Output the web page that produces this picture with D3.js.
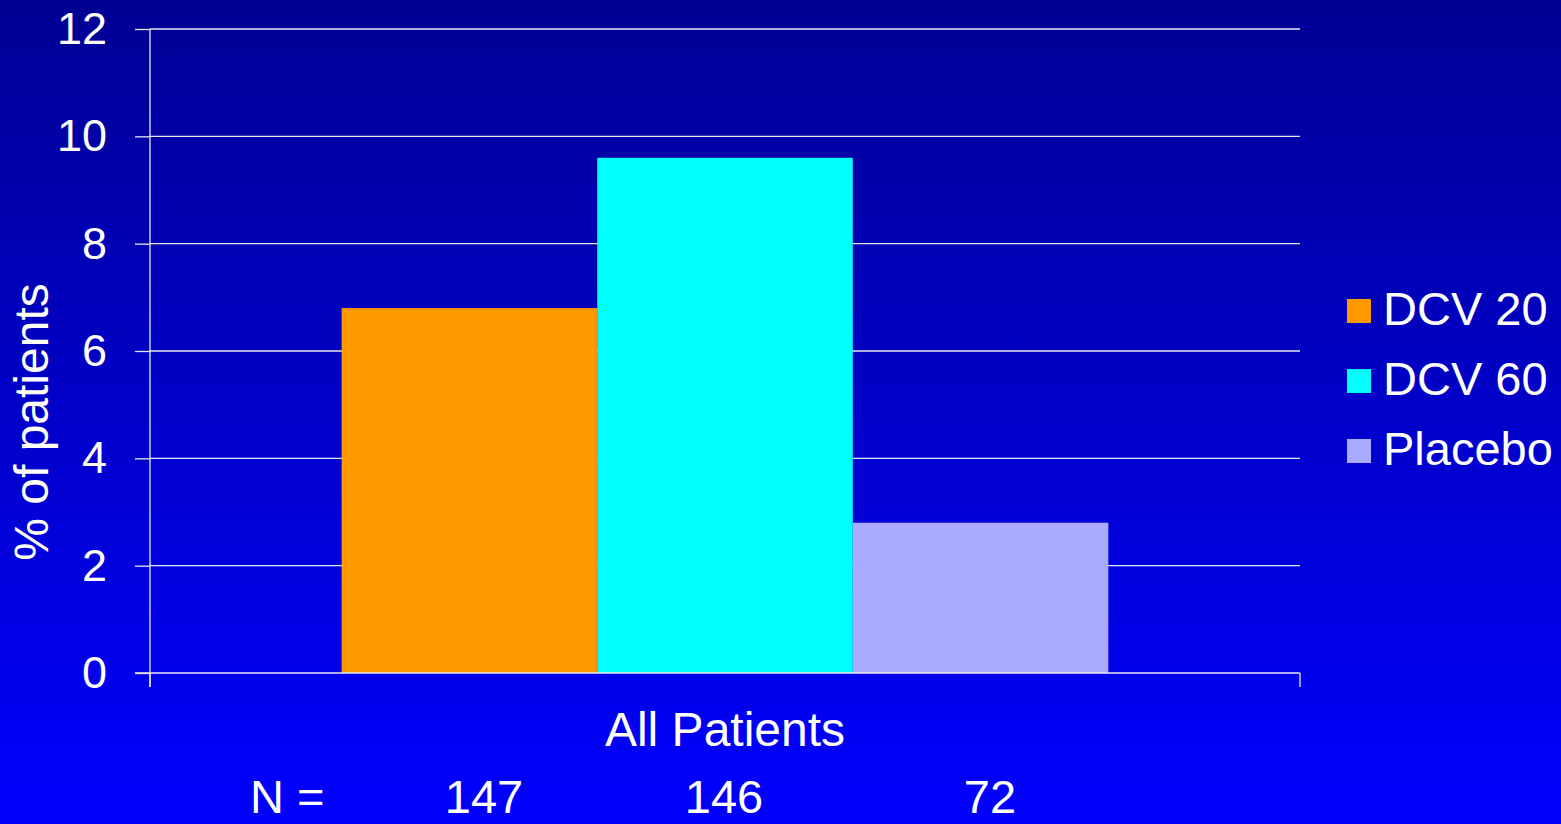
<!DOCTYPE html>
<html lang="en">
<head>
<meta charset="UTF-8">
<title>% of patients - All Patients</title>
<script src="https://cdn.jsdelivr.net/npm/d3@7"></script>
<style>
    body { margin: 0; overflow: hidden; }
    svg { display: block; font-family: "Liberation Sans", Arial, sans-serif; }
</style>
</head>
<body>
<div id="chart"></div>
<script>
    // data
    const categories = ["All Patients"];
    const seriesNames = ["DCV 20", "DCV 60", "Placebo"];
    const seriesValues = [6.8, 9.6, 2.8];
    const seriesColors = ["#ff9900", "#00ffff", "#aaaaff"];
    const nCounts = ["147", "146", "72"];
    const yTicks = [0, 2, 4, 6, 8, 10, 12];

    const width = 1561, height = 824;
    const plot = { left: 150, right: 1300, top: 29, bottom: 673 };

    const svg = d3.select("#chart").append("svg")
        .attr("width", width)
        .attr("height", height);

    // slide background: dark navy at top fading to bright blue
    const grad = svg.append("defs").append("linearGradient")
        .attr("id", "bg").attr("x1", 0).attr("y1", 0).attr("x2", 0).attr("y2", 1);
    grad.append("stop").attr("offset", "0%").attr("stop-color", "#000094");
    grad.append("stop").attr("offset", "100%").attr("stop-color", "#0000ff");
    svg.append("rect").attr("width", width).attr("height", height).attr("fill", "url(#bg)");

    const y = d3.scaleLinear().domain([0, 12]).range([plot.bottom, plot.top]);
    const x = d3.scaleBand().domain(categories).range([plot.left, plot.right]);
    const xs = d3.scaleBand().domain(seriesNames)
        .range([0, x.bandwidth()]).paddingOuter(0.75);

    // gridlines
    svg.append("g").selectAll("line")
        .data(yTicks.filter(d => d > 0))
        .join("line")
        .attr("x1", plot.left).attr("x2", plot.right)
        .attr("y1", d => y(d)).attr("y2", d => y(d))
        .attr("stroke", "#e8e8f0").attr("stroke-width", 1.3);

    // bars
    categories.forEach(cat => {
        svg.append("g").selectAll("rect")
            .data(seriesValues)
            .join("rect")
            .attr("x", (d, i) => x(cat) + xs(seriesNames[i]))
            .attr("width", xs.bandwidth())
            .attr("y", d => y(d))
            .attr("height", d => y(0) - y(d))
            .attr("fill", (d, i) => seriesColors[i]);
    });

    // y axis
    const yAxis = svg.append("g")
        .attr("transform", `translate(${plot.left},0)`)
        .call(d3.axisLeft(y).tickValues(yTicks).tickSize(15).tickPadding(28));
    yAxis.select(".domain").remove();
    yAxis.selectAll(".tick line").attr("stroke", "#e8e8f0").attr("stroke-width", 1.3);
    yAxis.selectAll(".tick text")
        .attr("fill", "#ffffff").attr("font-size", 45)
        .attr("font-family", "Liberation Sans, Arial, sans-serif");
    svg.append("line")
        .attr("x1", plot.left).attr("x2", plot.left)
        .attr("y1", plot.top).attr("y2", plot.bottom + 14)
        .attr("stroke", "#e8e8f0").attr("stroke-width", 1.3);

    // x axis: baseline plus category boundary ticks
    svg.append("line")
        .attr("x1", plot.left - 15).attr("x2", plot.right)
        .attr("y1", y(0)).attr("y2", y(0))
        .attr("stroke", "#e8e8f0").attr("stroke-width", 1.5);
    svg.append("g").selectAll("line")
        .data(x.range())
        .join("line")
        .attr("x1", d => d).attr("x2", d => d)
        .attr("y1", y(0)).attr("y2", y(0) + 14)
        .attr("stroke", "#e8e8f0").attr("stroke-width", 1.3);
    svg.append("g").selectAll("text")
        .data(categories)
        .join("text")
        .attr("x", d => x(d) + x.bandwidth() / 2)
        .attr("y", 746)
        .attr("text-anchor", "middle")
        .attr("fill", "#ffffff").attr("font-size", 48)
        .text(d => d);

    // y axis title
    svg.append("text")
        .attr("transform", `translate(48,${(plot.top + plot.bottom) / 2 + 71}) rotate(-90)`)
        .attr("text-anchor", "middle")
        .attr("fill", "#ffffff").attr("font-size", 48)
        .text("% of patients");

    // N row under each bar
    svg.append("text")
        .attr("x", 250).attr("y", 813)
        .attr("fill", "#ffffff").attr("font-size", 47)
        .text("N =");
    const nX = [484, 724, 990];
    svg.append("g").selectAll("text")
        .data(nCounts)
        .join("text")
        .attr("x", (d, i) => nX[i])
        .attr("y", 813)
        .attr("text-anchor", "middle")
        .attr("fill", "#ffffff").attr("font-size", 47)
        .text(d => d);

    // legend
    const legend = svg.append("g").attr("transform", "translate(1347,299)");
    const item = legend.selectAll("g")
        .data(seriesNames)
        .join("g")
        .attr("transform", (d, i) => `translate(0,${i * 70})`);
    item.append("rect")
        .attr("width", 24).attr("height", 24)
        .attr("fill", (d, i) => seriesColors[i]);
    item.append("text")
        .attr("x", 36).attr("y", 26)
        .attr("fill", "#ffffff").attr("font-size", 47)
        .text(d => d);
</script>
</body>
</html>
